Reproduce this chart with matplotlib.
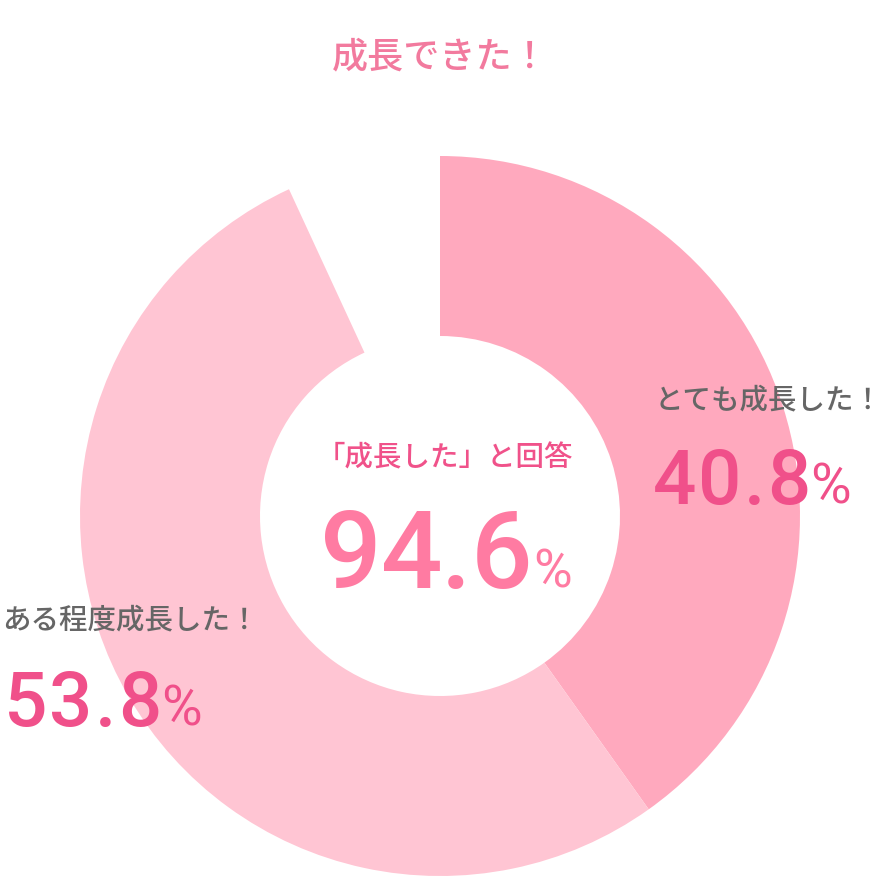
import matplotlib
matplotlib.use("Agg")
import matplotlib.pyplot as plt

# ---- data ----
categories = ["とても成長した！", "ある程度成長した！"]
values = [40.8, 53.8]
gap_value = 7.0          # blank remainder of the ring as drawn
title_text = "成長できた！"
center_label = "「成長した」と回答"
center_value = 94.6

colors = ["#FFA9BE", "#FFC5D3"]
plt.rcParams['font.family'] = ['Noto Sans CJK JP', 'DejaVu Sans']

W, H = 892, 876
fig = plt.figure(figsize=(W / 100, H / 100), dpi=100)
ax = fig.add_axes([0, 0, 1, 1])

def Y(py):
    return H - py

ax.pie(values + [gap_value], colors=colors + ["none"], startangle=90,
       counterclock=False, radius=360, center=(440, Y(516)),
       wedgeprops=dict(width=180, linewidth=0), frame=True)
ax.set_xlim(0, W)
ax.set_ylim(0, H)
ax.set_aspect('equal')
ax.axis('off')

ax.text(440, Y(57), title_text, ha='center', va='center', fontsize=26,
        color='#F27A9E', fontweight='medium')
ax.text(445, Y(458), center_label, ha='center', va='center', fontsize=20.5,
        color='#F0528A', fontweight='medium')

renderer = fig.canvas.get_renderer()
NUMFONT = ['Roboto', 'DejaVu Sans']

def tracked(x, ybase, s, size, color, gap, weight=500):
    for ch in s:
        t = ax.text(x, Y(ybase), ch, ha='left', va='baseline',
                    fontsize=size, color=color, fontweight=weight,
                    family=NUMFONT)
        bb = t.get_window_extent(renderer=renderer)
        x = bb.x1 + gap
    return x

def number(x, ybase, val, size, psize, color, gap, pgap):
    x = tracked(x, ybase, f"{val:.1f}", size, color, gap)
    tracked(x - gap + pgap, ybase, "%", psize, color, 0, weight=400)

number(320, 588, center_value, 78, 38, '#FF7BA2', -1, 1)

ax.text(655, Y(400), categories[0], ha='left', va='center', fontsize=20.5,
        color='#666666', fontweight='medium')
number(653, 504, values[0], 55, 40, '#F0508A', 2, 0)

ax.text(2, Y(620), categories[1], ha='left', va='center', fontsize=20.5,
        color='#666666', fontweight='medium')
number(4, 726, values[1], 55, 40, '#F0508A', 2, 0)

fig.savefig("out.png", dpi=100)
